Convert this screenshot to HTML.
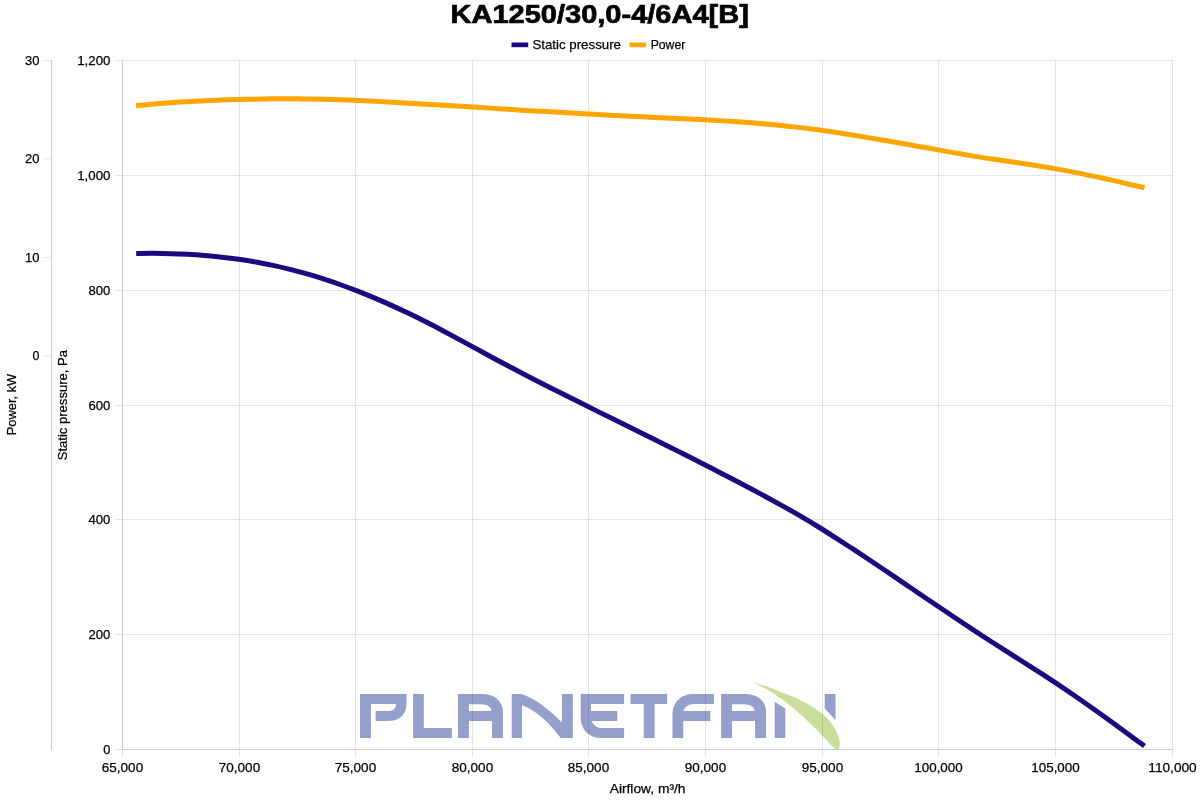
<!DOCTYPE html>
<html><head><meta charset="utf-8"><title>KA1250/30,0-4/6A4[B]</title>
<style>html,body{margin:0;padding:0;background:#fff}body{width:1200px;height:800px;overflow:hidden}svg{display:block}text{font-family:"Liberation Sans",sans-serif;fill:#000}</style></head><body>
<svg width="1200" height="800" viewBox="0 0 1200 800">
<rect width="1200" height="800" fill="#fff"/>
<g opacity="0.5">
<g fill="#2b4299">
<path d="M360 694H406.5V704C406.5 715 399 721 387.5 721H375.6V711H388.5C393 711 396 708.5 396 704H370.9V738.1H360Z"/>
<path d="M413.1 694H423.8V728.1H451.9V738.1H413.1Z"/>
<path id="lgA" fill-rule="evenodd" d="M458 738.1V693.9H482C494.5 693.9 503 701 503 712V738.1H492V721H468.9V738.1ZM468.9 704.2H481C487 704.2 491.5 707 491.5 711.1H468.9Z"/>
<path d="M511.7 738.1V693.9H521.2C534 697.5 550 710 561.9 722.4V693.9H572.8V738.1H560.7C551 724.5 538 711.5 522 704.9V738.1Z"/>
<path d="M624.1 693.9H580.7V717C580.7 730 589 738.1 602 738.1H624.1V728H602C597 728 593 725 591.9 720.9H617.3V711.1H591V704H624.1Z"/>
<path d="M630.5 693.9H667.2V704H654.6V738.1H643.7V704H630.5Z"/>
<path d="M672.5 738.1V715C672.5 702 681 693.9 693.8 693.9H714V704H693.8C688.5 704 685 707 683.3 711.1H710.3V720.9H683.3V738.1Z"/>
<path fill-rule="evenodd" transform="translate(263.1 0)" d="M458 738.1V693.9H482C494.5 693.9 503 701 503 712V738.1H492V721H468.9V738.1ZM468.9 704.2H481C487 704.2 491.5 707 491.5 711.1H468.9Z"/>
<path d="M774.7 701.8L785.3 708.5V738.1H774.7Z"/>
<path d="M824.7 693.9H835.5V720L824.7 708.5Z"/>
</g>
<path fill="#91c139" d="M753.0 682.2C755.0 682.8 761.3 684.8 765.0 686.0C768.7 687.2 771.7 688.2 775.0 689.5C778.3 690.8 781.7 692.2 785.0 693.5C788.3 694.8 791.7 696.0 795.0 697.5C798.3 699.0 801.7 700.7 805.0 702.5C808.3 704.3 811.7 706.2 815.0 708.5C818.3 710.8 822.2 713.4 825.0 716.0C827.8 718.6 830.0 721.2 832.0 724.0C834.0 726.8 835.8 730.2 837.0 733.0C838.2 735.8 839.1 738.8 839.5 741.0C839.9 743.2 839.8 744.7 839.6 746.0C839.5 747.3 839.0 748.4 838.6 749.0C838.2 749.6 837.3 749.8 837.0 749.9C836.7 749.7 836.2 749.8 835.0 748.8C833.8 747.8 831.7 745.7 830.0 744.0C828.3 742.3 827.5 741.2 825.0 738.5C822.5 735.8 818.3 731.3 815.0 728.0C811.7 724.7 808.3 721.6 805.0 718.5C801.7 715.4 798.3 712.3 795.0 709.5C791.7 706.7 788.3 704.0 785.0 701.5C781.7 699.0 778.3 696.7 775.0 694.5C771.7 692.3 768.0 690.2 765.0 688.5C762.0 686.8 759.0 685.2 757.0 684.2C755.0 683.2 753.7 682.5 753.0 682.2Z"/>
</g>

<path d="M239.5 60V750M355.5 60V750M472.5 60V750M588.5 60V750M705.5 60V750M822.5 60V750M938.5 60V750M1055.5 60V750M1172.5 60V750" stroke="#000" stroke-opacity="0.1" stroke-width="1" fill="none"/>
<path d="M122 60.5H1173M122 175.5H1173M122 290.5H1173M122 405.5H1173M122 519.5H1173M122 634.5H1173" stroke="#000" stroke-opacity="0.1" stroke-width="1" fill="none"/>
<path d="M122.5 750V757M239.5 750V757M355.5 750V757M472.5 750V757M588.5 750V757M705.5 750V757M822.5 750V757M938.5 750V757M1055.5 750V757M1172.5 750V757M114.5 60.5H122M114.5 175.5H122M114.5 290.5H122M114.5 405.5H122M114.5 519.5H122M114.5 634.5H122M114.5 749.5H122M44 60.5H51M44 158.9H51M44 257.4H51M44 355.8H51" stroke="#000" stroke-opacity="0.1" stroke-width="1" fill="none"/>
<path d="M122.5 60V750M51.5 60V750M122 749.5H1173" stroke="#cccccc" stroke-width="1" fill="none"/>
<path d="M136.20 253.45C139.05 253.43 147.59 253.30 153.29 253.33C158.99 253.36 164.68 253.46 170.38 253.63C176.08 253.81 181.77 254.05 187.47 254.36C193.17 254.67 198.86 255.05 204.56 255.51C210.26 255.98 215.95 256.52 221.65 257.16C227.35 257.79 233.04 258.49 238.74 259.30C244.44 260.11 250.13 261.02 255.83 262.03C261.53 263.05 267.22 264.15 272.92 265.37C278.62 266.58 284.31 267.90 290.01 269.32C295.71 270.75 301.40 272.27 307.10 273.91C312.79 275.54 318.49 277.29 324.19 279.14C329.88 280.99 335.58 282.95 341.28 284.99C346.97 287.04 352.67 289.20 358.37 291.43C364.06 293.67 369.76 296.00 375.46 298.40C381.15 300.81 386.85 303.29 392.55 305.87C398.24 308.45 403.94 311.12 409.64 313.86C415.33 316.61 421.03 319.45 426.73 322.34C432.42 325.22 438.12 328.19 443.82 331.19C449.51 334.20 455.21 337.28 460.91 340.36C466.60 343.44 472.30 346.57 478.00 349.67C483.69 352.77 489.39 355.89 495.09 358.96C500.78 362.03 506.48 365.07 512.18 368.07C517.87 371.08 523.57 374.05 529.27 376.99C534.96 379.93 540.66 382.82 546.36 385.71C552.05 388.59 557.75 391.45 563.45 394.31C569.14 397.17 574.84 400.02 580.54 402.86C586.23 405.70 591.93 408.53 597.63 411.37C603.32 414.20 609.02 417.02 614.72 419.85C620.41 422.68 626.11 425.51 631.81 428.32C637.50 431.13 643.20 433.90 648.89 436.71C654.59 439.52 660.29 442.33 665.98 445.17C671.68 448.01 677.38 450.88 683.07 453.76C688.77 456.63 694.47 459.52 700.16 462.42C705.86 465.32 711.56 468.24 717.25 471.17C722.95 474.10 728.65 477.03 734.34 480.00C740.04 482.97 745.74 485.96 751.43 489.00C757.13 492.03 762.83 495.07 768.52 498.18C774.22 501.30 779.92 504.45 785.61 507.66C791.31 510.87 797.01 514.09 802.70 517.44C808.40 520.78 814.10 524.23 819.79 527.75C825.49 531.27 831.19 534.89 836.88 538.55C842.58 542.21 848.28 545.96 853.97 549.70C859.67 553.45 865.37 557.22 871.06 561.02C876.76 564.82 882.46 568.64 888.15 572.48C893.85 576.32 899.55 580.20 905.24 584.07C910.94 587.94 916.64 591.84 922.33 595.71C928.03 599.57 933.73 603.43 939.42 607.27C945.12 611.10 950.82 614.93 956.51 618.74C962.21 622.55 967.91 626.36 973.60 630.11C979.30 633.86 984.99 637.58 990.69 641.26C996.39 644.93 1002.08 648.56 1007.78 652.18C1013.48 655.81 1019.17 659.38 1024.87 663.01C1030.57 666.63 1036.26 670.24 1041.96 673.93C1047.66 677.63 1053.35 681.36 1059.05 685.17C1064.75 688.97 1070.44 692.83 1076.14 696.74C1081.84 700.66 1087.53 704.64 1093.23 708.68C1098.93 712.72 1104.62 716.84 1110.32 720.98C1116.02 725.12 1121.71 729.34 1127.41 733.52C1133.11 737.71 1141.65 743.98 1144.50 746.07" stroke="#1a0a80" stroke-width="5" fill="none" stroke-linejoin="round"/>
<path d="M136.00 105.67C138.85 105.40 147.40 104.58 153.09 104.09C158.79 103.61 164.49 103.16 170.19 102.75C175.88 102.34 181.58 101.98 187.28 101.65C192.98 101.31 198.68 101.02 204.37 100.76C210.07 100.50 215.77 100.28 221.47 100.08C227.16 99.88 232.86 99.70 238.56 99.55C244.26 99.39 249.95 99.25 255.65 99.13C261.35 99.01 267.05 98.91 272.75 98.85C278.44 98.79 284.14 98.76 289.84 98.77C295.54 98.77 301.23 98.81 306.93 98.89C312.63 98.97 318.33 99.08 324.03 99.23C329.72 99.38 335.42 99.57 341.12 99.78C346.82 100.00 352.51 100.25 358.21 100.51C363.91 100.78 369.61 101.07 375.31 101.36C381.00 101.66 386.70 101.98 392.40 102.30C398.10 102.62 403.79 102.96 409.49 103.29C415.19 103.61 420.89 103.94 426.58 104.27C432.28 104.60 437.98 104.93 443.68 105.27C449.38 105.60 455.07 105.95 460.77 106.29C466.47 106.64 472.17 106.99 477.86 107.35C483.56 107.71 489.26 108.08 494.96 108.45C500.66 108.82 506.35 109.20 512.05 109.56C517.75 109.93 523.45 110.29 529.14 110.63C534.84 110.97 540.54 111.30 546.24 111.62C551.94 111.95 557.63 112.26 563.33 112.58C569.03 112.90 574.73 113.22 580.42 113.54C586.12 113.86 591.82 114.17 597.52 114.49C603.21 114.80 608.91 115.12 614.61 115.43C620.31 115.73 626.01 116.04 631.70 116.33C637.40 116.62 643.10 116.90 648.80 117.18C654.49 117.45 660.19 117.70 665.89 117.96C671.59 118.22 677.29 118.47 682.98 118.74C688.68 119.00 694.38 119.27 700.08 119.56C705.77 119.84 711.47 120.14 717.17 120.47C722.87 120.79 728.56 121.14 734.26 121.52C739.96 121.91 745.66 122.33 751.36 122.78C757.05 123.24 762.75 123.74 768.45 124.27C774.15 124.80 779.84 125.36 785.54 125.97C791.24 126.57 796.94 127.20 802.64 127.88C808.33 128.56 814.03 129.29 819.73 130.06C825.43 130.84 831.12 131.67 836.82 132.54C842.52 133.40 848.22 134.34 853.92 135.27C859.61 136.20 865.31 137.17 871.01 138.13C876.71 139.10 882.40 140.09 888.10 141.07C893.80 142.05 899.50 143.04 905.19 144.04C910.89 145.04 916.59 146.05 922.29 147.06C927.99 148.07 933.68 149.10 939.38 150.11C945.08 151.13 950.78 152.16 956.47 153.15C962.17 154.15 967.87 155.16 973.57 156.11C979.27 157.06 984.96 157.97 990.66 158.84C996.36 159.71 1002.06 160.52 1007.75 161.34C1013.45 162.17 1019.15 162.94 1024.85 163.80C1030.55 164.65 1036.24 165.52 1041.94 166.45C1047.64 167.38 1053.34 168.34 1059.03 169.37C1064.73 170.40 1070.43 171.48 1076.13 172.61C1081.82 173.73 1087.52 174.91 1093.22 176.13C1098.92 177.34 1104.62 178.60 1110.31 179.89C1116.01 181.17 1121.71 182.52 1127.41 183.82C1133.10 185.12 1141.65 187.05 1144.50 187.69" stroke="#ffa500" stroke-width="5" fill="none" stroke-linejoin="round"/>
<rect x="511.5" y="42.5" width="16.7" height="4.7" fill="#1a0a80"/>
<rect x="629.5" y="42.5" width="16.7" height="4.7" fill="#ffa500"/>
<g opacity="0.999" stroke="#000" stroke-width="0.25">
<text x="450.60" y="22.90" font-size="25.40" textLength="298.2" lengthAdjust="spacingAndGlyphs" font-weight="bold" stroke-width="0.7">KA1250/30,0-4/6A4[B]</text>
<text x="532.40" y="48.90" font-size="12.70" textLength="88.6" lengthAdjust="spacingAndGlyphs">Static pressure</text>
<text x="650.70" y="48.90" font-size="12.70" textLength="34.6" lengthAdjust="spacingAndGlyphs">Power</text>
<text x="101.85" y="771.70" font-size="12.70" textLength="41.3" lengthAdjust="spacingAndGlyphs">65,000</text>
<text x="218.85" y="771.70" font-size="12.70" textLength="41.3" lengthAdjust="spacingAndGlyphs">70,000</text>
<text x="334.85" y="771.70" font-size="12.70" textLength="41.3" lengthAdjust="spacingAndGlyphs">75,000</text>
<text x="451.85" y="771.70" font-size="12.70" textLength="41.3" lengthAdjust="spacingAndGlyphs">80,000</text>
<text x="567.85" y="771.70" font-size="12.70" textLength="41.3" lengthAdjust="spacingAndGlyphs">85,000</text>
<text x="684.85" y="771.70" font-size="12.70" textLength="41.3" lengthAdjust="spacingAndGlyphs">90,000</text>
<text x="801.85" y="771.70" font-size="12.70" textLength="41.3" lengthAdjust="spacingAndGlyphs">95,000</text>
<text x="914.30" y="771.70" font-size="12.70" textLength="48.4" lengthAdjust="spacingAndGlyphs">100,000</text>
<text x="1031.30" y="771.70" font-size="12.70" textLength="48.4" lengthAdjust="spacingAndGlyphs">105,000</text>
<text x="1148.30" y="771.70" font-size="12.70" textLength="48.4" lengthAdjust="spacingAndGlyphs">110,000</text>
<text x="77.20" y="64.80" font-size="12.70" textLength="33.2" lengthAdjust="spacingAndGlyphs">1,200</text>
<text x="77.20" y="179.80" font-size="12.70" textLength="33.2" lengthAdjust="spacingAndGlyphs">1,000</text>
<text x="88.50" y="294.80" font-size="12.70" textLength="21.9" lengthAdjust="spacingAndGlyphs">800</text>
<text x="88.50" y="409.80" font-size="12.70" textLength="21.9" lengthAdjust="spacingAndGlyphs">600</text>
<text x="88.50" y="523.80" font-size="12.70" textLength="21.9" lengthAdjust="spacingAndGlyphs">400</text>
<text x="88.50" y="638.80" font-size="12.70" textLength="21.9" lengthAdjust="spacingAndGlyphs">200</text>
<text x="103.30" y="753.80" font-size="12.70" textLength="7.1" lengthAdjust="spacingAndGlyphs">0</text>
<text x="25.10" y="64.80" font-size="12.70" textLength="14.4" lengthAdjust="spacingAndGlyphs">30</text>
<text x="25.10" y="163.20" font-size="12.70" textLength="14.4" lengthAdjust="spacingAndGlyphs">20</text>
<text x="25.10" y="261.70" font-size="12.70" textLength="14.4" lengthAdjust="spacingAndGlyphs">10</text>
<text x="32.60" y="360.10" font-size="12.70" textLength="6.9" lengthAdjust="spacingAndGlyphs">0</text>
<text x="609.70" y="793.00" font-size="12.70" textLength="75.8" lengthAdjust="spacingAndGlyphs">Airflow, m³/h</text>
<text transform="translate(16.0 435.2) rotate(-90)" font-size="12.7" textLength="61.4" lengthAdjust="spacingAndGlyphs">Power, kW</text>
<text transform="translate(66.7 460.3) rotate(-90)" font-size="12.7" textLength="110.3" lengthAdjust="spacingAndGlyphs">Static pressure, Pa</text>
</g>
</svg></body></html>
